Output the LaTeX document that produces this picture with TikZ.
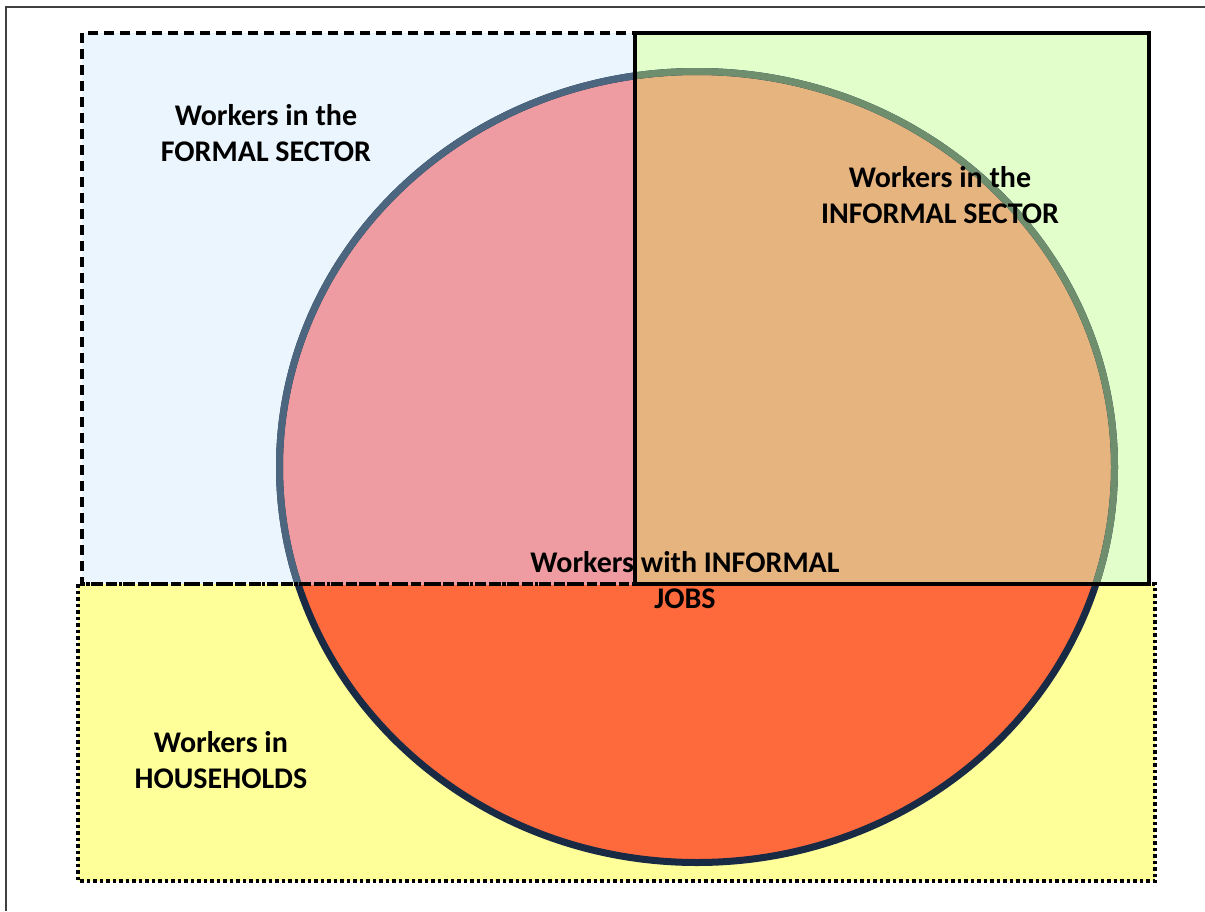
\documentclass[tikz,border=0pt]{standalone}
\usepackage{fontspec}
\setmainfont{Carlito}
\definecolor{formalblue}{HTML}{EAF5FD}
\definecolor{informalgreen}{HTML}{E1FECB}
\definecolor{houseyellow}{HTML}{FFFF99}
\definecolor{jobred}{HTML}{FF6A3D}
\definecolor{jobpink}{HTML}{EE9CA1}
\definecolor{jobtan}{HTML}{E6B47F}
\definecolor{ringnavy}{HTML}{182A44}
\definecolor{ringblue}{HTML}{4C6680}
\definecolor{ringgreen}{HTML}{6E8E6E}
\begin{document}
\begin{tikzpicture}[x=1pt,y=-1pt]
    \tikzstyle{sector label}=[font=\fontsize{30}{36}\selectfont\bfseries,align=center,inner sep=0pt]
    \tikzstyle{ring}=[line width=7pt]
    \useasboundingbox (0,0) rectangle (1205,911);

    % corners of the boxes and centre of the circle
    \coordinate (F-1) at (82,33);
    \coordinate (F-2) at (635,584);
    \coordinate (I-1) at (635,33);
    \coordinate (I-2) at (1149,584);
    \coordinate (H-1) at (78,584);
    \coordinate (H-2) at (1155,881);
    \coordinate (J) at (697,467);

    % page frame
    \draw[black!75,line width=2pt] (6,911) -- (6,7) -- (1205,7);

    % box fills
    \fill[houseyellow] (H-1) rectangle (H-2);
    \fill[formalblue] (F-1) rectangle (F-2);
    \fill[informalgreen] (I-1) rectangle (I-2);

    % informal jobs circle
    \fill[jobred] (J) ellipse [x radius=417.5,y radius=395.5];
    \begin{scope}
      \clip (F-1) rectangle (F-2);
      \fill[jobpink] (J) ellipse [x radius=417.5,y radius=395.5];
    \end{scope}
    \begin{scope}
      \clip (I-1) rectangle (I-2);
      \fill[jobtan] (J) ellipse [x radius=417.5,y radius=395.5];
    \end{scope}
    \draw[ring,ringnavy] (J) ellipse [x radius=417.5,y radius=395.5];
    \begin{scope}
      \clip (F-1) rectangle (F-2);
      \draw[ring,ringblue] (J) ellipse [x radius=417.5,y radius=395.5];
    \end{scope}
    \begin{scope}
      \clip (I-1) rectangle (I-2);
      \draw[ring,ringgreen] (J) ellipse [x radius=417.5,y radius=395.5];
    \end{scope}

    % box borders
    \draw[line width=3.5pt,dash pattern=on 3.5pt off 3pt] (H-1) rectangle (H-2);
    \draw[line width=3.5pt,dash pattern=on 10pt off 6pt] (F-1) rectangle (F-2);
    \draw[line width=3.5pt] (I-1) rectangle (I-2);

    % labels
    \node[sector label] (formal) at (266,133) {Workers in the\\FORMAL SECTOR};
    \node[sector label] (informal) at (940,195) {Workers in the\\INFORMAL SECTOR};
    \node[sector label] (jobs) at (685,580) {Workers with INFORMAL\\JOBS};
    \node[sector label] (households) at (221,760) {Workers in\\HOUSEHOLDS};
\end{tikzpicture}
\end{document}
